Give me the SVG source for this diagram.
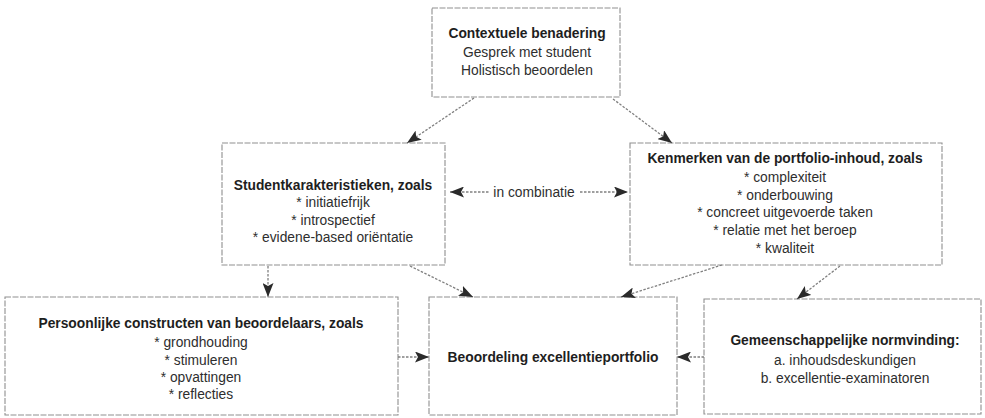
<svg xmlns="http://www.w3.org/2000/svg" width="985" height="418" viewBox="0 0 985 418">
<style>
  .box { fill: #ffffff; stroke: #8f8f8f; stroke-width: 1.1; stroke-dasharray: 6 1.5; }
  .t { font-family: "Liberation Sans", Arial, sans-serif; font-size: 13.8px; fill: #2e2e2e; text-anchor: middle; }
  .b { font-weight: bold; fill: #1e1e1e; }
  .c { fill: none; stroke: #808080; stroke-width: 1.3; stroke-dasharray: 2.5 1.5; }
</style>
<defs>
  <marker id="ah" markerUnits="userSpaceOnUse" markerWidth="15" markerHeight="11" refX="14" refY="5.5" orient="auto-start-reverse">
    <path d="M0,0 L14,5.5 L0,11 L3,5.5 z" fill="#2a2a2a"/>
  </marker>
</defs>
<rect width="985" height="418" fill="#ffffff"/>

<g id="node-context">
  <rect class="box" x="432" y="8" width="188" height="89"/>
  <text class="t b" x="527" y="38">Contextuele benadering</text>
  <text class="t" x="527" y="57">Gesprek met student</text>
  <text class="t" x="527" y="75">Holistisch beoordelen</text>
</g>

<g id="node-student">
  <rect class="box" x="222" y="143" width="223" height="122"/>
  <text class="t b" x="333" y="190">Studentkarakteristieken, zoals</text>
  <text class="t" x="333" y="207">* initiatiefrijk</text>
  <text class="t" x="333" y="225">* introspectief</text>
  <text class="t" x="333" y="242">* evidene-based oriëntatie</text>
</g>

<g id="node-kenmerken">
  <rect class="box" x="630" y="143" width="312" height="122"/>
  <text class="t b" x="785" y="163">Kenmerken van de portfolio-inhoud, zoals</text>
  <text class="t" x="785" y="182">* complexiteit</text>
  <text class="t" x="785" y="200">* onderbouwing</text>
  <text class="t" x="785" y="217">* concreet uitgevoerde taken</text>
  <text class="t" x="785" y="235">* relatie met het beroep</text>
  <text class="t" x="785" y="253">* kwaliteit</text>
</g>

<g id="node-persoonlijk">
  <rect class="box" x="5" y="297" width="393" height="118"/>
  <text class="t b" x="201" y="328">Persoonlijke constructen van beoordelaars, zoals</text>
  <text class="t" x="201" y="347">* grondhouding</text>
  <text class="t" x="201" y="365">* stimuleren</text>
  <text class="t" x="201" y="382">* opvattingen</text>
  <text class="t" x="201" y="399">* reflecties</text>
</g>

<g id="node-beoordeling">
  <rect class="box" x="429" y="297" width="248" height="118"/>
  <text class="t b" x="553" y="362">Beoordeling excellentieportfolio</text>
</g>

<g id="node-gemeenschappelijk">
  <rect class="box" x="704" y="299" width="277" height="115"/>
  <text class="t b" x="845" y="345">Gemeenschappelijke normvinding:</text>
  <text class="t" x="845" y="365">a. inhoudsdeskundigen</text>
  <text class="t" x="845" y="383">b. excellentie-examinatoren</text>
</g>

<g id="connectors">
  <line class="c" x1="474" y1="98" x2="407" y2="143" marker-end="url(#ah)"/>
  <line class="c" x1="613" y1="99" x2="672" y2="143" marker-end="url(#ah)"/>
  <line class="c" x1="450" y1="192" x2="489" y2="192" marker-start="url(#ah)"/>
  <line class="c" x1="580" y1="192" x2="628" y2="192" marker-end="url(#ah)"/>
  <text class="t" x="534" y="197">in combinatie</text>
  <line class="c" x1="268" y1="266" x2="268" y2="297" marker-end="url(#ah)"/>
  <line class="c" x1="410" y1="266" x2="473" y2="297" marker-end="url(#ah)"/>
  <line class="c" x1="722" y1="265" x2="621" y2="297" marker-end="url(#ah)"/>
  <line class="c" x1="840" y1="266" x2="797" y2="299" marker-end="url(#ah)"/>
  <line class="c" x1="398" y1="357" x2="429" y2="357" marker-end="url(#ah)"/>
  <line class="c" x1="704" y1="357" x2="677" y2="357" marker-end="url(#ah)"/>
</g>
</svg>
